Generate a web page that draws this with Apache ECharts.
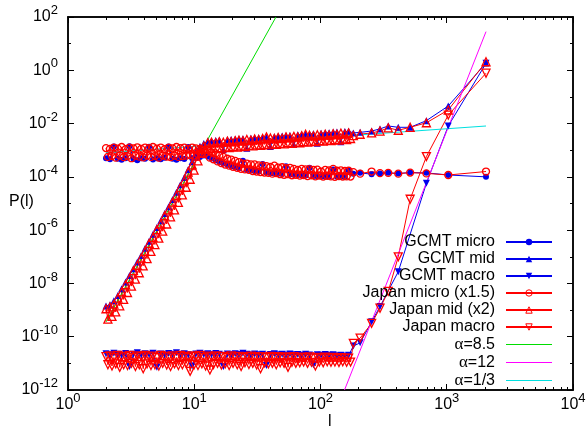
<!DOCTYPE html>
<html><head><meta charset="utf-8">
<script src="https://cdn.jsdelivr.net/npm/echarts@6/dist/echarts.min.js"></script>
<style>html,body{margin:0;padding:0;background:#fff}#c{width:588px;height:430px}</style>
</head><body><div id="c"></div>
<script>
// l values (dense region, then sparse tail)
const L_DENSE = [2.00,2.15,2.31,2.48,2.66,2.86,3.07,3.30,3.54,3.80,
  4.08,4.39,4.71,5.06,5.43,5.83,6.27,6.73,7.23,7.76,
  8.34,8.95,9.62,10.3,11.1,11.9,12.8,13.7,14.8,15.8,
  17.0,18.3,19.6,21.1,22.6,24.3,26.1,28.1,30.1,32.4,
  34.8,37.3,40.1,43.1,46.2,49.7,53.3,57.3,61.5,66.1,
  71.0,76.2,81.8,87.9,94.4,101,109,117,126,135,
  145,156,167];
const L_TAIL = [182,206,254,296,344,413,513,690,1028,2046];
// extra l values between the dense ones (Japan catalogue is denser)
const L_BETWEEN = [2.07,2.23,2.39,2.57,2.76,2.96,3.18,3.42,3.67,3.94,
  4.23,4.54,4.88,5.24,5.63,6.05,6.49,6.98,7.49,8.05,
  8.64,9.28,9.97,10.7,11.5,12.3,13.3,14.2,15.3,16.4,
  17.6,18.9,20.3,21.9,23.5,25.2,27.1,29.1,31.2,33.5,
  36.0,38.7,41.6,44.6,47.9,51.5,55.3,59.4,63.8,68.5,
  73.5,79.0,84.8,91.1,97.8,105,113,121,130,140,
  150,161,173];

// log10 P(l) values (null = no point)
const gcmtMicroLog = [-3.3,-3.34,-2.86,-3.32,-3.36,-3.3,-2.85,-3.33,-3.38,-3.3,-3.32,-2.87,-3.35,-3.3,-3.34,-3.28,-2.86,-3.32,-3.36,-3.3,-3.33,-2.88,-3.3,-3.28,-3.25,-3.2,
  -3.24,-3.31,-3.38,-3.44,-3.5,-3.55,-3.6,-3.64,-3.68,-3.4,-3.74,-3.76,-3.78,-3.8,-3.52,-3.84,-3.86,-3.87,-3.88,-3.89,-3.6,-3.91,-3.92,-3.93,-3.94,-3.95,-3.66,-3.97,-3.98,-3.98,-3.99,-3.99,-3.72,-4.0,-4.0,-4.01,-3.75,
  -3.88,-3.85,-3.9,-3.87,-3.85,-3.87,-3.84,-3.85,-3.93,-4.0];
const gcmtMidLog = [-8.85,-8.8,-8.65,-8.45,-8.2,-7.95,-7.7,-7.45,-7.2,-6.95,-6.68,-6.42,-6.15,-5.9,-5.65,-5.38,-5.12,-4.85,-4.58,-4.3,-4.02,-3.72,-3.42,-3.1,-2.85,-2.75,
  -2.66,-2.65,-2.64,-2.63,-2.98,-2.61,-2.6,-2.59,-2.58,-2.57,-2.93,-2.55,-2.54,-2.53,-2.52,-2.51,-2.86,-2.49,-2.48,-2.47,-2.46,-2.45,-2.79,-2.42,-2.41,-2.4,-2.39,-2.38,-2.74,-2.36,-2.35,-2.34,-2.33,-2.32,-2.68,-2.3,-2.29,
  -2.35,-2.33,-2.28,-2.2,-2.09,-2.14,-2.14,-1.89,-1.34,0.27];
const gcmtMacroLog = [-10.64,-10.68,-10.62,-10.66,-10.7,-10.63,-11.12,-10.66,-10.6,-10.68,
  -10.64,-10.67,-10.62,-11.15,-10.65,-10.69,-10.63,-10.66,-10.6,-10.67,
  -10.64,-10.68,-11.1,-10.65,-10.62,-10.67,-10.64,-10.68,-10.63,-10.66,
  -11.12,-10.65,-10.68,-10.64,-10.67,-10.62,-10.66,-10.69,-10.65,-10.68,
  -10.66,-11.08,-10.67,-10.64,-10.68,-10.66,-10.69,-10.65,-10.68,-10.67,
  -10.7,-10.66,-10.69,-11.05,-10.68,-10.7,-10.67,-10.7,-10.68,-10.71,
  -10.7,-10.72,-10.7,
  -10.35,-10.23,-9.44,-8.87,null,-7.56,null,-4.24,-2.09,0.26];
const japanMicroLog = [-2.92,-2.95,-2.9,-2.94,-2.88,-2.96,-2.9,-2.93,-2.89,-2.95,-2.9,-2.92,-2.88,-2.94,-2.9,-2.96,-2.9,-2.93,-2.88,-2.92,-2.9,-2.95,-2.9,-2.93,-2.95,-3.0,
  -3.0,-3.08,-3.12,-3.2,-3.25,-3.32,-3.35,-3.4,-3.45,-3.5,-3.5,-3.53,-3.53,-3.57,-3.58,-3.6,-3.63,-3.58,-3.65,-3.64,-3.67,-3.66,-3.7,-3.74,-3.7,-3.72,-3.71,-3.74,-3.73,-3.8,-3.74,-3.76,-3.7,-3.77,-3.76,-3.78,-3.77,
  -3.82,-3.88,-3.8,-3.86,-3.85,-3.88,-3.84,-3.87,-3.93,-3.8];
const japanMicroBetweenLog = [-3.25,-3.22,-3.28,-3.2,-3.26,-3.22,-3.3,-3.2,-3.24,-3.27,-3.2,-3.25,-3.22,-3.28,-3.2,-3.24,-3.26,-3.2,-3.25,-3.22,-3.2,-3.18,-3.2,-3.15,-3.12,-3.1,
  -3.28,-3.34,-3.42,-3.48,-3.54,-3.58,-3.62,-3.66,-3.7,-3.72,-3.74,-3.78,-3.8,-3.82,-3.84,-3.85,-3.88,-3.86,-3.9,-3.92,-3.9,-3.94,-3.92,-3.95,-3.93,-3.97,-3.94,-3.98,-3.95,-3.99,-3.96,-3.98,-4.0,-3.97,-3.99,-3.98,-3.99];
const japanMidLog = [-8.95,-8.88,-8.78,-8.55,-8.32,-8.05,-7.82,-7.52,-7.32,-7.05,-6.8,-6.5,-6.27,-5.98,-5.77,-5.46,-5.24,-4.95,-4.7,-4.4,-4.15,-3.82,-3.55,-3.22,-2.95,-2.85,
  -2.72,-2.7,-2.72,-2.68,-2.7,-2.66,-2.68,-2.64,-2.62,-2.64,-2.6,-2.62,-2.58,-2.6,-2.56,-2.5,-2.54,-2.56,-2.52,-2.55,-2.5,-2.52,-2.48,-2.5,-2.46,-2.4,-2.44,-2.46,-2.42,-2.44,-2.4,-2.43,-2.38,-2.4,-2.36,-2.39,-2.35,
  -2.45,-2.4,-2.35,-2.28,-2.16,-2.25,-2.14,-1.97,-1.49,0.32];
const japanMidBetweenLog = [-9.34,-9.24,-9.07,-8.84,-8.6,-8.34,-8.1,-7.84,-7.6,-7.34,-7.07,-6.8,-6.54,-6.3,-6.04,-5.77,-5.5,-5.24,-4.96,-4.68,-4.39,-4.09,-3.75,-3.4,-3.12,-2.95,
  -2.94,-2.92,-2.9,-2.92,-2.88,-2.9,-2.86,-2.88,-2.84,-2.86,-2.82,-2.84,-2.8,-2.82,-2.78,-2.8,-2.76,-2.78,-2.74,-2.76,-2.72,-2.74,-2.7,-2.72,-2.68,-2.7,-2.66,-2.68,-2.64,-2.66,-2.62,-2.64,-2.6,-2.62,-2.58,-2.6,-2.56];
const japanMacroLog = [-10.75,-10.72,-10.78,-10.7,-10.76,-10.74,-10.7,-10.78,-10.72,-10.75,
  -10.7,-10.76,-10.73,-10.78,-10.7,-10.74,-10.76,-10.72,-10.78,-10.7,
  -10.74,-10.77,-10.72,-10.75,-10.7,-10.78,-10.73,-10.76,-10.72,-10.75,
  -10.74,-10.78,-10.72,-10.76,-10.74,-10.78,-10.75,-10.73,-10.77,-10.75,
  -10.76,-10.78,-10.74,-10.77,-10.75,-10.79,-10.76,-10.78,-10.75,-10.8,
  -10.77,-10.79,-10.76,-10.8,-10.78,-10.8,-10.77,-10.8,-10.78,-10.81,
  -10.79,-10.8,-10.8,
  -10.25,-10.05,-9.5,-8.93,-8.3,-7.0,-4.84,-3.24,-1.68,-0.11];
const japanMacroBetweenLog = [-11.05,-11.1,-11.02,-11.15,-11.05,-11.08,-11.0,-11.12,-11.05,-11.2,
  -11.02,-11.08,-11.05,-11.1,-11.0,-11.06,-11.12,-11.02,-11.08,-11.05,
  -11.0,-11.3,-11.05,-11.08,-11.02,-11.1,-11.25,-11.04,-11.0,-11.06,
  -11.02,-11.08,-11.0,-11.05,-11.12,-10.98,-11.04,-11.0,-11.06,-11.2,
  -10.98,-11.02,-11.0,-11.05,-10.98,-11.0,-11.15,-10.96,-11.0,-10.98,
  -10.95,-11.0,-10.96,-11.1,-10.95,-10.98,-10.94,-10.96,-10.95,-10.97,
  -10.94,-10.96,-10.95];

// reference power-law lines (end points)
const alpha85L = [2, 44.4];      const alpha85P = [3.6e-10, 100];
const alpha12L = [155, 2046];    const alpha12P = [1e-12, 28.2];
const alpha13L = [2, 2046];      const alpha13P = [8.1e-4, 8.1e-3];

// tick values
const xMajor = [1, 10, 100, 1000, 10000];
const xMinor = [2,3,4,5,6,7,8,9,20,30,40,50,60,70,80,90,200,300,400,500,600,700,800,900,2000,3000,4000,5000,6000,7000,8000,9000];
const yMajor = [1e-12,1e-10,1e-8,1e-6,1e-4,1e-2,1,100];
const yMinor = [1e-11,1e-9,1e-7,1e-5,1e-3,1e-1,10];

const FONT = 'Liberation Sans';
const L_ALL = L_DENSE.concat(L_TAIL);
function build(logs, between) {
  const out = [];
  logs.forEach((v, i) => { if (v !== null) out.push([L_ALL[i], Math.pow(10, v)]); });
  if (between) between.forEach((v, i) => { if (v !== null) out.push([L_BETWEEN[i], Math.pow(10, v)]); });
  out.sort((a, b) => a[0] - b[0]);
  return out;
}
function pairs(xs, ys) { return xs.map((x, i) => [x, ys[i]]); }

const BLUE = '#0000ee', RED = '#ff0000';
function dataSeries(name, logs, between, color, symbol, size, rotate, hollow) {
  return {
    name, type: 'line', data: build(logs, between), symbol, symbolSize: size, symbolRotate: rotate,
    lineStyle: { color, width: 1 },
    itemStyle: hollow ? { color: 'rgba(255,255,255,0)', borderColor: color, borderWidth: 1.3 } : { color },
    emphasis: { disabled: true }, clip: true
  };
}
function refLine(name, xs, ys, color) {
  return { name, type: 'line', data: pairs(xs, ys), symbol: 'none', showSymbol: false,
    lineStyle: { color, width: 1 }, itemStyle: { color }, emphasis: { disabled: true }, clip: true };
}

const supFmt = v => {
  const e = Math.round(Math.log10(v));
  return '{b|10}{s|' + e + '}';
};
const rich = {
  b: { fontSize: 16, fontFamily: FONT, color: '#000', lineHeight: 26, verticalAlign: 'middle' },
  s: { fontSize: 13, fontFamily: FONT, color: '#000', lineHeight: 13, verticalAlign: 'top' }
};

function xAx(pos, ticks, len, labels) {
  return {
    type: 'log', logBase: 10, min: 1, max: 10000, position: pos,
    axisLine: { show: true, lineStyle: { color: '#000', width: 1.5 } },
    axisTick: { show: true, inside: true, length: len, customValues: ticks, lineStyle: { color: '#000', width: 1 } },
    axisLabel: labels ? { show: true, customValues: ticks, margin: 2, formatter: supFmt, rich } : { show: false },
    splitLine: { show: false }, minorTick: { show: false }
  };
}
function yAx(pos, ticks, len, labels) {
  return {
    type: 'log', logBase: 10, min: 1e-12, max: 100, position: pos,
    axisLine: { show: true, lineStyle: { color: '#000', width: 1.5 } },
    axisTick: { show: true, inside: true, length: len, customValues: ticks, lineStyle: { color: '#000', width: 1 } },
    axisLabel: labels ? { show: true, customValues: ticks, margin: 10, formatter: supFmt, rich } : { show: false },
    splitLine: { show: false }, minorTick: { show: false }
  };
}

const LINE_ICON = 'path://M0,0H46V1.2H0Z';
const chart = echarts.init(document.getElementById('c'), null, { renderer: 'canvas' });
chart.setOption({
  animation: false,
  backgroundColor: '#fff',
  grid: { left: 68, right: 15, top: 17, bottom: 40, containLabel: false, outerBoundsMode: 'none' },
  xAxis: [xAx('bottom', xMajor, 6, true), xAx('bottom', xMinor, 3, false), xAx('top', xMajor, 6, false), xAx('top', xMinor, 3, false)],
  yAxis: [yAx('left', yMajor, 6, true), yAx('left', yMinor, 3, false), yAx('right', yMajor, 6, false), yAx('right', yMinor, 3, false)],
  legend: {
    orient: 'vertical', align: 'right', right: 35, top: 234, padding: 0,
    itemWidth: 46, itemHeight: 8, itemGap: 1,
    itemStyle: { borderWidth: 1 },
    textStyle: { fontSize: 16, fontFamily: FONT, color: '#000', padding: [0, 6, 0, 0],
      rich: { a: { fontFamily: 'Liberation Serif', fontSize: 17, color: '#000' }, t: { fontSize: 16, fontFamily: FONT, color: '#000' } } },
    formatter: n => n.charAt(0) === 'α' ? '{a|α}{t|' + n.slice(1) + '}' : n,
    selectedMode: false,
    data: ['GCMT micro','GCMT mid','GCMT macro','Japan micro (x1.5)','Japan mid (x2)','Japan macro',
      { name: 'α=8.5', icon: LINE_ICON }, { name: 'α=12', icon: LINE_ICON }, { name: 'α=1/3', icon: LINE_ICON }]
  },
  graphic: [
    { type: 'text', left: 9, top: 194, style: { text: 'P(l)', fontSize: 16, fontFamily: FONT, fill: '#000' } },
    { type: 'text', left: 328, top: 414, style: { text: 'l', fontSize: 16, fontFamily: FONT, fill: '#000' } }
  ],
  series: [
    dataSeries('GCMT micro', gcmtMicroLog, null, BLUE, 'circle', 6, 0, false),
    dataSeries('GCMT mid', gcmtMidLog, null, BLUE, 'triangle', 7, 0, false),
    dataSeries('GCMT macro', gcmtMacroLog, null, BLUE, 'triangle', 7, 180, false),
    dataSeries('Japan micro (x1.5)', japanMicroLog, japanMicroBetweenLog, RED, 'circle', 7, 0, true),
    dataSeries('Japan mid (x2)', japanMidLog, japanMidBetweenLog, RED, 'triangle', 8, 0, true),
    dataSeries('Japan macro', japanMacroLog, japanMacroBetweenLog, RED, 'triangle', 8, 180, true),
    refLine('α=8.5', alpha85L, alpha85P, '#00dd00'),
    refLine('α=12', alpha12L, alpha12P, '#ff00ff'),
    refLine('α=1/3', alpha13L, alpha13P, '#00e0e0')
  ]
});
</script></body></html>
